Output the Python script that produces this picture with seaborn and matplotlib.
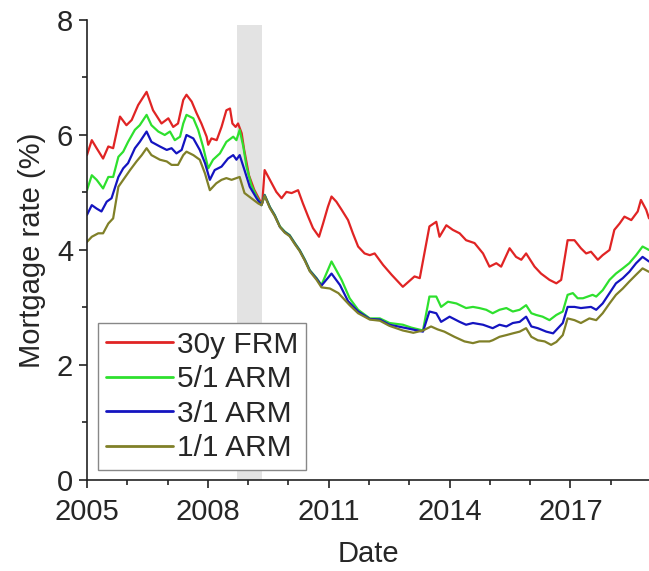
import matplotlib
matplotlib.use("Agg")
import matplotlib.pyplot as plt
from matplotlib.ticker import MultipleLocator, FixedLocator
import numpy as np
import pandas as pd
import seaborn as sns

# Weekly-survey mortgage rates (%), sampled at decimal-year dates
frm30_year = [2005.00, 2005.12, 2005.24, 2005.40, 2005.53, 2005.65, 2005.82, 2005.98,
              2006.11, 2006.27, 2006.48, 2006.64, 2006.85, 2007.02, 2007.14, 2007.26,
              2007.39, 2007.47, 2007.60, 2007.72, 2007.84, 2007.97, 2008.01, 2008.09,
              2008.22, 2008.34, 2008.46, 2008.55, 2008.61, 2008.69, 2008.75, 2008.84,
              2008.90, 2009.02, 2009.15, 2009.30, 2009.35, 2009.41, 2009.54, 2009.70,
              2009.83, 2009.95, 2010.08, 2010.24, 2010.36, 2010.49, 2010.61, 2010.76,
              2010.86, 2010.98, 2011.07, 2011.19, 2011.32, 2011.48, 2011.60, 2011.73,
              2011.89, 2012.02, 2012.14, 2012.35, 2012.56, 2012.84, 2013.13, 2013.26,
              2013.50, 2013.67, 2013.75, 2013.92, 2014.08, 2014.25, 2014.41, 2014.62,
              2014.83, 2014.99, 2015.16, 2015.28, 2015.49, 2015.65, 2015.78, 2015.90,
              2016.11, 2016.27, 2016.48, 2016.65, 2016.77, 2016.93, 2017.10, 2017.26,
              2017.39, 2017.51, 2017.68, 2017.80, 2017.97, 2018.09, 2018.22, 2018.34,
              2018.51, 2018.67, 2018.75, 2018.88, 2018.95]
frm30_rate = [5.65, 5.91, 5.77, 5.59, 5.80, 5.77, 6.32, 6.17,
              6.26, 6.52, 6.75, 6.43, 6.20, 6.29, 6.14, 6.20,
              6.61, 6.70, 6.58, 6.38, 6.20, 5.97, 5.83, 5.94,
              5.91, 6.14, 6.43, 6.46, 6.20, 6.14, 6.20, 6.03,
              5.75, 5.30, 5.05, 4.85, 4.81, 5.39, 5.22, 5.01,
              4.90, 5.01, 4.99, 5.04, 4.81, 4.58, 4.38, 4.23,
              4.46, 4.75, 4.93, 4.84, 4.70, 4.52, 4.29, 4.06,
              3.94, 3.91, 3.94, 3.74, 3.57, 3.36, 3.54, 3.51,
              4.41, 4.49, 4.23, 4.43, 4.35, 4.29, 4.17, 4.12,
              3.94, 3.71, 3.77, 3.71, 4.03, 3.88, 3.83, 3.94,
              3.71, 3.59, 3.48, 3.42, 3.48, 4.17, 4.17, 4.03,
              3.94, 3.97, 3.83, 3.91, 4.00, 4.35, 4.46, 4.58,
              4.52, 4.67, 4.87, 4.70, 4.55]

arm51_year = [2005.00, 2005.12, 2005.24, 2005.40, 2005.53, 2005.65, 2005.78, 2005.90,
              2006.02, 2006.19, 2006.31, 2006.48, 2006.60, 2006.77, 2006.93, 2007.06,
              2007.18, 2007.31, 2007.39, 2007.47, 2007.64, 2007.76, 2007.88, 2008.01,
              2008.13, 2008.30, 2008.46, 2008.63, 2008.71, 2008.79, 2008.88, 2008.96,
              2009.08, 2009.21, 2009.33, 2009.41, 2009.54, 2009.66, 2009.79, 2009.91,
              2010.03, 2010.16, 2010.28, 2010.41, 2010.53, 2010.70, 2010.82, 2011.07,
              2011.32, 2011.52, 2011.73, 2012.02, 2012.27, 2012.51, 2012.84, 2013.05,
              2013.34, 2013.50, 2013.67, 2013.79, 2013.96, 2014.17, 2014.41, 2014.58,
              2014.74, 2014.91, 2015.07, 2015.24, 2015.41, 2015.57, 2015.74, 2015.90,
              2016.03, 2016.15, 2016.31, 2016.48, 2016.65, 2016.81, 2016.93, 2017.06,
              2017.18, 2017.31, 2017.43, 2017.55, 2017.64, 2017.80, 2017.97, 2018.13,
              2018.30, 2018.46, 2018.63, 2018.79, 2018.95]
arm51_rate = [5.04, 5.30, 5.22, 5.07, 5.27, 5.27, 5.62, 5.71,
              5.88, 6.09, 6.17, 6.35, 6.17, 6.06, 6.00, 6.06,
              5.91, 5.97, 6.20, 6.35, 6.29, 6.09, 5.80, 5.42,
              5.57, 5.68, 5.88, 5.97, 5.91, 6.09, 5.80, 5.45,
              5.13, 4.93, 4.78, 4.96, 4.75, 4.61, 4.41, 4.32,
              4.26, 4.12, 4.00, 3.83, 3.65, 3.51, 3.39, 3.80,
              3.48, 3.16, 2.96, 2.81, 2.81, 2.73, 2.70, 2.65,
              2.60, 3.19, 3.19, 3.01, 3.10, 3.07, 2.99, 3.01,
              2.99, 2.96, 2.90, 2.96, 2.99, 2.93, 2.96, 3.04,
              2.90, 2.87, 2.84, 2.78, 2.87, 2.93, 3.22, 3.25,
              3.16, 3.16, 3.19, 3.22, 3.19, 3.30, 3.48, 3.59,
              3.68, 3.77, 3.91, 4.06, 4.00]

arm31_year = [2005.00, 2005.12, 2005.24, 2005.36, 2005.49, 2005.61, 2005.78, 2005.90,
              2006.02, 2006.19, 2006.31, 2006.48, 2006.60, 2006.81, 2006.98, 2007.10,
              2007.22, 2007.35, 2007.47, 2007.64, 2007.80, 2007.93, 2008.05, 2008.17,
              2008.34, 2008.50, 2008.63, 2008.71, 2008.79, 2008.91, 2009.04, 2009.21,
              2009.33, 2009.41, 2009.54, 2009.66, 2009.79, 2009.91, 2010.03, 2010.16,
              2010.28, 2010.41, 2010.53, 2010.70, 2010.82, 2011.07, 2011.28, 2011.48,
              2011.73, 2012.02, 2012.27, 2012.51, 2012.93, 2013.34, 2013.50, 2013.67,
              2013.79, 2014.00, 2014.25, 2014.41, 2014.58, 2014.83, 2015.07, 2015.24,
              2015.41, 2015.57, 2015.74, 2015.90, 2016.03, 2016.19, 2016.40, 2016.57,
              2016.65, 2016.81, 2016.93, 2017.10, 2017.26, 2017.51, 2017.64, 2017.80,
              2017.97, 2018.13, 2018.30, 2018.46, 2018.63, 2018.79, 2018.95]
arm31_rate = [4.61, 4.78, 4.72, 4.67, 4.84, 4.90, 5.27, 5.42,
              5.51, 5.77, 5.88, 6.06, 5.88, 5.80, 5.74, 5.77,
              5.68, 5.74, 6.00, 5.94, 5.74, 5.51, 5.22, 5.39,
              5.45, 5.59, 5.65, 5.57, 5.65, 5.39, 5.10, 4.90,
              4.78, 4.95, 4.74, 4.60, 4.40, 4.31, 4.25, 4.11,
              3.99, 3.82, 3.64, 3.50, 3.38, 3.59, 3.39, 3.11,
              2.93, 2.80, 2.79, 2.70, 2.64, 2.58, 2.93, 2.90,
              2.75, 2.84, 2.75, 2.70, 2.73, 2.70, 2.64, 2.70,
              2.67, 2.73, 2.75, 2.84, 2.67, 2.64, 2.58, 2.55,
              2.61, 2.73, 3.01, 3.01, 2.99, 3.01, 2.96, 3.07,
              3.25, 3.42, 3.51, 3.62, 3.77, 3.88, 3.80]

arm11_year = [2005.00, 2005.12, 2005.28, 2005.40, 2005.53, 2005.65, 2005.78, 2005.90,
              2006.07, 2006.23, 2006.36, 2006.48, 2006.60, 2006.81, 2006.98, 2007.10,
              2007.26, 2007.39, 2007.47, 2007.64, 2007.80, 2007.93, 2008.05, 2008.21,
              2008.34, 2008.46, 2008.59, 2008.79, 2008.91, 2009.08, 2009.25, 2009.33,
              2009.41, 2009.54, 2009.66, 2009.79, 2009.91, 2010.03, 2010.16, 2010.28,
              2010.41, 2010.53, 2010.70, 2010.82, 2011.03, 2011.24, 2011.52, 2011.73,
              2012.02, 2012.27, 2012.51, 2012.84, 2013.10, 2013.34, 2013.54, 2013.70,
              2013.87, 2014.12, 2014.37, 2014.58, 2014.74, 2014.99, 2015.07, 2015.24,
              2015.41, 2015.57, 2015.74, 2015.90, 2016.03, 2016.19, 2016.36, 2016.52,
              2016.65, 2016.81, 2016.93, 2017.10, 2017.26, 2017.47, 2017.64, 2017.80,
              2017.97, 2018.13, 2018.30, 2018.46, 2018.63, 2018.79, 2018.95]
arm11_rate = [4.14, 4.23, 4.29, 4.29, 4.46, 4.55, 5.10, 5.22,
              5.39, 5.54, 5.65, 5.77, 5.65, 5.57, 5.54, 5.48,
              5.48, 5.65, 5.71, 5.65, 5.57, 5.33, 5.04, 5.16,
              5.22, 5.25, 5.22, 5.27, 4.99, 4.90, 4.81, 4.78,
              4.94, 4.73, 4.59, 4.40, 4.30, 4.24, 4.10, 3.98,
              3.81, 3.63, 3.48, 3.35, 3.33, 3.25, 3.04, 2.90,
              2.79, 2.77, 2.68, 2.60, 2.56, 2.60, 2.67, 2.62,
              2.58, 2.49, 2.41, 2.38, 2.41, 2.41, 2.43, 2.49,
              2.52, 2.55, 2.58, 2.64, 2.49, 2.43, 2.41, 2.35,
              2.40, 2.52, 2.81, 2.78, 2.73, 2.81, 2.78, 2.90,
              3.07, 3.22, 3.33, 3.45, 3.57, 3.68, 3.62]

series_names = ["30y FRM", "5/1 ARM", "3/1 ARM", "1/1 ARM"]
series_colors = ["#e02424", "#2ee02e", "#1414c0", "#808028"]
year_ticks = [2005, 2008, 2011, 2014, 2017]
recession = (2008.72, 2009.34)

frames = []
for name, yrs, vals in zip(series_names,
                           [frm30_year, arm51_year, arm31_year, arm11_year],
                           [frm30_rate, arm51_rate, arm31_rate, arm11_rate]):
    frames.append(pd.DataFrame({"year": yrs, "rate": vals, "series": name}))
df = pd.concat(frames, ignore_index=True)

sns.set_style("ticks")
plt.rcParams["font.family"] = ["Liberation Sans", "DejaVu Sans"]

fig = plt.figure(figsize=(6.49, 5.71), dpi=100)
ax = fig.add_axes([0.134, 0.1594, 0.866, 0.8056])

# shaded recession window
ax.axvspan(recession[0], recession[1], ymin=0, ymax=0.99,
           color="#e3e3e3", lw=0, zorder=0)

sns.lineplot(data=df, x="year", y="rate", hue="series",
             hue_order=series_names,
             palette=dict(zip(series_names, series_colors)),
             estimator=None, sort=False, linewidth=1.6, ax=ax, legend=True)

ax.set_xlim(2005, 2018.95)
ax.set_ylim(0, 8)
ax.xaxis.set_major_locator(FixedLocator(year_ticks))
ax.xaxis.set_minor_locator(MultipleLocator(1))
ax.yaxis.set_major_locator(MultipleLocator(2))
ax.yaxis.set_minor_locator(MultipleLocator(1))
ax.set_xticklabels([str(y) for y in year_ticks])

ax.tick_params(axis="both", which="major", direction="out", length=6,
               width=1.2, labelsize=21, pad=4, color="#222222")
ax.tick_params(axis="x", which="major", pad=7)
ax.tick_params(axis="both", which="minor", direction="out", length=3.5,
               width=1.2, color="#222222")

for side in ("top", "right"):
    ax.spines[side].set_visible(False)
for side in ("left", "bottom"):
    ax.spines[side].set_linewidth(1.2)
    ax.spines[side].set_color("#222222")

ax.set_xlabel("Date", fontsize=21, labelpad=10)
ax.set_ylabel("Mortgage rate (%)", fontsize=21, labelpad=8)

handles, labels = ax.get_legend_handles_labels()
leg = ax.legend(handles, labels, loc="lower left",
                bbox_to_anchor=(0.02, 0.022), fontsize=21.5,
                frameon=True, fancybox=False, framealpha=1,
                edgecolor="#888888", handlelength=2.25, handletextpad=0.15,
                labelspacing=0.22, borderpad=0.25, borderaxespad=0)
leg.get_frame().set_linewidth(1.0)
for line in leg.get_lines():
    line.set_linewidth(2.0)

fig.savefig("out.png", dpi=100)
